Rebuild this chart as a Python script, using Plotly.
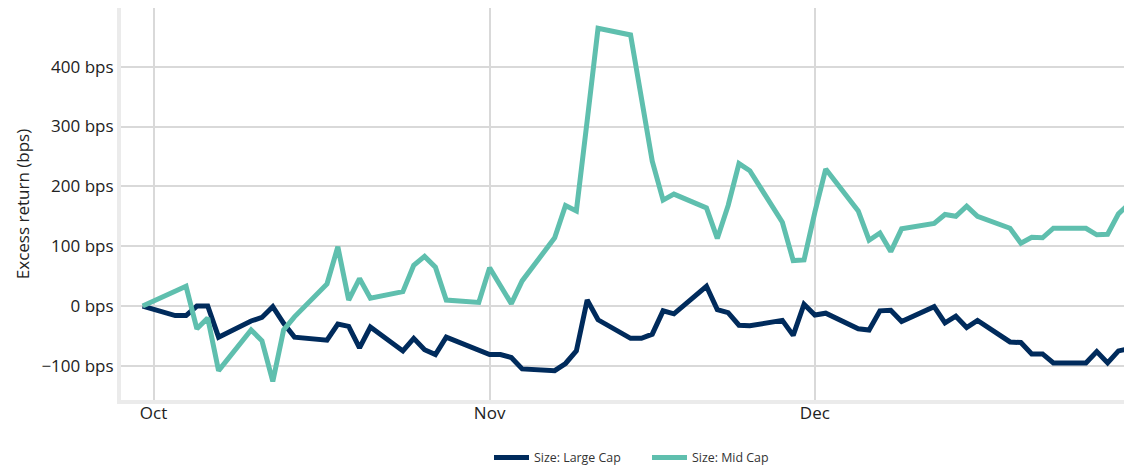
import plotly.graph_objects as go

dates = [
    "2022-09-30",
    "2022-10-03", "2022-10-04", "2022-10-05", "2022-10-06", "2022-10-07",
    "2022-10-10", "2022-10-11", "2022-10-12", "2022-10-13", "2022-10-14",
    "2022-10-17", "2022-10-18", "2022-10-19", "2022-10-20", "2022-10-21",
    "2022-10-24", "2022-10-25", "2022-10-26", "2022-10-27", "2022-10-28",
    "2022-10-31", "2022-11-01", "2022-11-02", "2022-11-03", "2022-11-04",
    "2022-11-07", "2022-11-08", "2022-11-09", "2022-11-10", "2022-11-11",
    "2022-11-14", "2022-11-15", "2022-11-16", "2022-11-17", "2022-11-18",
    "2022-11-21", "2022-11-22", "2022-11-23", "2022-11-24", "2022-11-25",
    "2022-11-28", "2022-11-29", "2022-11-30", "2022-12-01", "2022-12-02",
    "2022-12-05", "2022-12-06", "2022-12-07", "2022-12-08", "2022-12-09",
    "2022-12-12", "2022-12-13", "2022-12-14", "2022-12-15", "2022-12-16",
    "2022-12-19", "2022-12-20", "2022-12-21", "2022-12-22", "2022-12-23",
    "2022-12-26", "2022-12-27", "2022-12-28", "2022-12-29", "2022-12-30",
]

large_cap = [
    0,
    -16, -16, 0, 0, -52,
    -25, -19, -1, -29, -52,
    -57, -30, -34, -70, -35,
    -75, -54, -73, -81, -52,
    -73, -81, -81, -86, -105,
    -108, -96, -75, 10, -23,
    -54, -54, -47, -8, -13,
    33, -6, -11, -32, -33,
    -24, -49, 3, -15, -12,
    -38, -40, -8, -7, -26,
    -1, -28, -17, -36, -24,
    -60, -61, -80, -80, -95,
    -95, -76, -95, -75, -71,
]

mid_cap = [
    0,
    25, 33, -38, -20, -108,
    -40, -58, -126, -40, -18,
    37, 99, 10, 46, 13,
    24, 68, 83, 65, 10,
    6, 64, 34, 4, 42,
    114, 168, 159, 310, 464,
    453, 348, 242, 177, 187,
    164, 113, 168, 238, 226,
    140, 76, 77, 157, 229,
    159, 110, 122, 91, 129,
    138, 153, 150, 167, 150,
    130, 105, 115, 114, 130,
    130, 119, 120, 154, 171,
]

series_names = ["Size: Large Cap", "Size: Mid Cap"]
series_colors = ["#002b5c", "#5fbfae"]

y_ticks = [-100, 0, 100, 200, 300, 400]
y_ticktext = [f"{v} bps".replace("-", "\u2212") for v in y_ticks]
x_ticks = ["2022-10-01", "2022-11-01", "2022-12-01"]
x_ticktext = ["Oct", "Nov", "Dec"]

fig = go.Figure()
for name, vals, col in zip(series_names, [large_cap, mid_cap], series_colors):
    fig.add_trace(go.Scatter(
        x=dates, y=vals, name=name, mode="lines",
        line=dict(color=col, width=5),
    ))

# page body has an 8px margin: figure drawn at (8, 8)
fig.update_layout(
    width=1124, height=460,
    margin=dict(l=113, r=0, t=0, b=68, autoexpand=False),
    paper_bgcolor="white", plot_bgcolor="white",
    font=dict(family="Open Sans", size=17, color="#222222"),
    showlegend=True,
    legend=dict(
        orientation="h", x=0.364, xanchor="left", y=-0.148, yanchor="middle",
        font=dict(size=12.4, color="#333333"),
        itemwidth=35, entrywidth=108, entrywidthmode="pixels",
    ),
)
fig.update_yaxes(
    range=[-157, 498], tickvals=y_ticks, ticktext=y_ticktext,
    showgrid=True, gridcolor="#d9d9d9", gridwidth=1.5,
    zeroline=False, showline=True, linecolor="#ebebeb", linewidth=4,
    automargin=False,
    title=dict(text="Excess return (bps)", font=dict(size=17), standoff=8),
)
fig.update_xaxes(
    type="date", range=["2022-09-28", "2022-12-30 06:00"],
    tickvals=x_ticks, ticktext=x_ticktext, ticklabelstandoff=-5,
    showgrid=True, gridcolor="#d9d9d9", gridwidth=1.5,
    zeroline=False, showline=True, linecolor="#ebebeb", linewidth=4,
    automargin=False,
)

fig.write_html("out.html")
